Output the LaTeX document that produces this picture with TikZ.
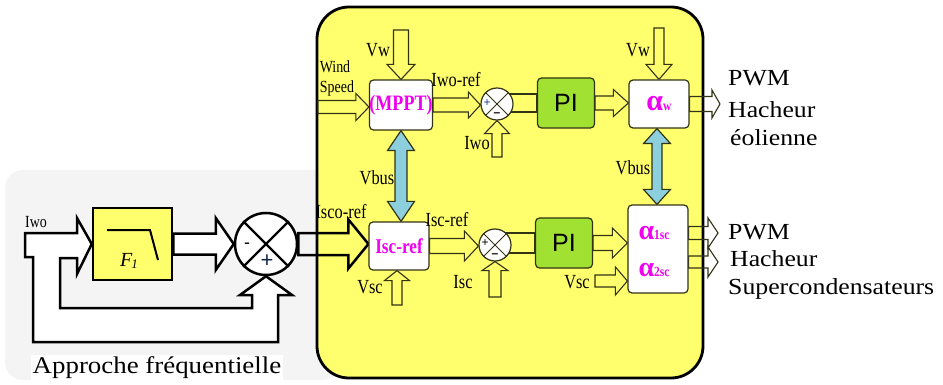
\documentclass[tikz,border=0pt]{standalone}
\usepackage{fontspec}
\setmainfont{Liberation Serif}
\newfontfamily\condserif[FakeStretch=0.82]{Liberation Serif}
\newfontfamily\wideserif[FakeStretch=1.12]{Liberation Serif}
\newfontfamily\pisans{Liberation Sans}
\usetikzlibrary{calc}
\definecolor{bgyellow}{RGB}{255,255,110}
\definecolor{pigreen}{RGB}{160,225,50}
\definecolor{vbusblue}{RGB}{140,208,222}
\definecolor{darkol}{RGB}{50,50,20}
\definecolor{panelgray}{RGB}{244,244,244}
\definecolor{magtext}{RGB}{240,0,240}
\pgfdeclarelayer{back}
\pgfdeclarelayer{mid}
\pgfsetlayers{back,mid,main}
% block arrow: style, start, tip, shaft half width, head half width, head length
\newcommand{\blockarrow}[6]{%
  \path (#2) coordinate (ba-s) (#3) coordinate (ba-t);
  \path ($(ba-t)!#6!(ba-s)$) coordinate (ba-b);
  \draw[#1] ($(ba-s)!#4!90:(ba-t)$) -- ($(ba-b)!#4!90:(ba-t)$) -- ($(ba-b)!#5!90:(ba-t)$)
    -- (ba-t) -- ($(ba-b)!#5!-90:(ba-t)$) -- ($(ba-b)!#4!-90:(ba-t)$)
    -- ($(ba-s)!#4!-90:(ba-t)$) -- cycle;}
% double headed block arrow
\newcommand{\dblarrow}[6]{%
  \path (#2) coordinate (da-a) (#3) coordinate (da-b);
  \path ($(da-a)!#6!(da-b)$) coordinate (da-a2) ($(da-b)!#6!(da-a)$) coordinate (da-b2);
  \draw[#1] (da-a) -- ($(da-a2)!#5!90:(da-b)$) -- ($(da-a2)!#4!90:(da-b)$)
    -- ($(da-b2)!#4!90:(da-b)$) -- ($(da-b2)!#5!90:(da-b)$) -- (da-b)
    -- ($(da-b2)!#5!-90:(da-b)$) -- ($(da-b2)!#4!-90:(da-b)$)
    -- ($(da-a2)!#4!-90:(da-b)$) -- ($(da-a2)!#5!-90:(da-b)$) -- cycle;}
\begin{document}
\begin{tikzpicture}[x=1pt,y=-1pt,
  lbl/.style={font=\condserif\fontsize{20}{20}\selectfont, inner sep=0pt, text=black},
  big/.style={font=\wideserif\fontsize{23}{23}\selectfont, inner sep=0pt, anchor=west},
  box/.style={draw=darkol, line width=1.2pt, rounded corners=4pt, fill=white, inner sep=0pt},
  pibox/.style={box, fill=pigreen, font=\pisans\fontsize{25}{25}\selectfont},
  sumc/.style={circle, draw=darkol, line width=1.2pt, fill=white, minimum size=32pt, inner sep=0pt},
  mag/.style={text=magtext, font=\condserif\bfseries\fontsize{22}{22}\selectfont},
  sign/.style={font=\pisans\fontsize{12}{12}\selectfont, inner sep=0pt},
  thinarr/.style={draw=darkol, line width=1.1pt, fill=bgyellow, line join=miter},
  outarr/.style={draw=darkol, line width=1.1pt, line join=miter},
  bigarr/.style={draw=black, line width=2.5pt, line join=miter},
  busarr/.style={draw=darkol, line width=1.2pt, fill=vbusblue, line join=miter}]
\useasboundingbox (0,0) rectangle (943,385);

\begin{pgfonlayer}{back}
  \fill[panelgray, rounded corners=18pt] (5,170) rectangle (340,380);
  \node[draw=black, line width=2.8pt, fill=bgyellow, rounded corners=32pt,
        minimum width=386pt, minimum height=371pt, inner sep=0pt] (ctrl) at (510,192.5) {};
\end{pgfonlayer}

% ---- frequency approach (left) ----
\node[draw=black, line width=2.5pt, fill=bgyellow, minimum width=79pt, minimum height=72pt, inner sep=0pt] (f1) at (132.5,244) {};
\draw[line width=2pt] (107,230) -- (150,230) -- (158,260);
\node[font=\itshape\fontsize{20}{20}\selectfont, inner sep=0pt] (f1lbl) at (129,261) {F\kern-1pt{\fontsize{13}{13}\selectfont\raisebox{-2pt}{1}}};
\node[circle, draw=black, line width=2.5pt, fill=white, minimum size=62pt, inner sep=0pt] (bigsum) at (266,244) {};
\draw[line width=2.2pt] (bigsum.north west) -- (bigsum.south east) (bigsum.north east) -- (bigsum.south west);
\node[font=\pisans\fontsize{18}{18}\selectfont, inner sep=0pt] (bsminus) at (247,246) {-};
\node[font=\pisans\fontsize{22}{22}\selectfont, inner sep=0pt, text={rgb,255:red,20;green,40;blue,70}] (bsplus) at (267,261) {+};
\node[lbl, font=\condserif\fontsize{17}{17}\selectfont] (iwol) at (36,222) {Iwo};
\node[font=\wideserif\fontsize{24}{24}\selectfont, fill=white, inner sep=2pt] (caption) at (157,368) {Approche fréquentielle};

% ---- control block nodes ----
\node[box, minimum width=63pt, minimum height=50pt] (mppt) at (401,105) {};
\node[mag] at (mppt) {(MPPT)};
\node[box, minimum width=60pt, minimum height=48pt] (isc) at (399,246) {};
\node[mag, font=\condserif\bfseries\fontsize{21}{21}\selectfont] at (isc) {Isc-ref};
\node[sumc] (sum1) at (497,104) {};
\draw[darkol, line width=1pt] (sum1.north west) -- (sum1.south east) (sum1.north east) -- (sum1.south west);
\node[sign, text={rgb,255:red,30;green,60;blue,140}] (s1p) at (487,103) {+};
\node[sign] (s1m) at (497,115) {\textbf{–}};
\node[sumc] (sum2) at (495,245) {};
\draw[darkol, line width=1pt] (sum2.north west) -- (sum2.south east) (sum2.north east) -- (sum2.south west);
\node[sign] (s2p) at (485,243) {+};
\node[sign] (s2m) at (495,256) {\textbf{–}};
\node[pibox, minimum width=57pt, minimum height=50pt] (pi1) at (566,103) {PI};
\node[pibox, minimum width=57pt, minimum height=50pt] (pi2) at (564,243) {PI};
\node[box, minimum width=60pt, minimum height=48pt] (aw) at (659,104) {};
\node[text=magtext, inner sep=0pt] at (aw) {{\bfseries\fontsize{30}{30}\selectfont α}{\condserif\bfseries\fontsize{14}{14}\selectfont w}};
\node[box, minimum width=60pt, minimum height=88pt] (asc) at (658,249) {};
\node[text=magtext, inner sep=0pt] (a1) at (654,233) {{\bfseries\fontsize{28}{28}\selectfont α}{\condserif\bfseries\fontsize{14}{14}\selectfont 1sc}};
\node[text=magtext, inner sep=0pt] (a2) at (654,270) {{\bfseries\fontsize{28}{28}\selectfont α}{\condserif\bfseries\fontsize{14}{14}\selectfont 2sc}};

% ---- labels ----
\node[lbl] (lvw1) at (378,50) {Vw};
\node[lbl, font=\condserif\fontsize{17}{17}\selectfont] (lwind) at (335,67) {Wind};
\node[lbl, font=\condserif\fontsize{17}{17}\selectfont] (lspeed) at (337,88) {Speed};
\node[lbl] (liworef) at (456,80) {Iwo-ref};
\node[lbl] (liwo) at (477,143) {Iwo};
\node[lbl] (lvw2) at (638,50) {Vw};
\node[lbl] (lvbus1) at (377,178) {Vbus};
\node[lbl] (lvbus2) at (633,168) {Vbus};
\node[lbl] (lisco) at (341,212) {Isco-ref};
\node[lbl] (liscref) at (447,220) {Isc-ref};
\node[lbl] (lisc) at (463,282) {Isc};
\node[lbl] (lvsc1) at (370,287) {Vsc};
\node[lbl] (lvsc2) at (577,282) {Vsc};
\node[big] (pwm1) at (728,78) {PWM};
\node[big] (hach1) at (728,110) {Hacheur};
\node[big] (eol) at (730,138) {éolienne};
\node[big] (pwm2) at (728,232) {PWM};
\node[big] (hach2) at (730,259) {Hacheur};
\node[big] (superc) at (728,289) {Supercondensateurs};

% ---- free ends ----
\coordinate (windin) at (318,107);
\coordinate (vw1in) at (401,30);
\coordinate (iwoin) at (497,157);
\coordinate (vw2in) at (659,28);
\coordinate (awout) at (720,104);
\coordinate (iscin) at (495,297);
\coordinate (vsc1in) at (397,305);
\coordinate (vsc2in) at (595,281);
\coordinate (out1) at (718,233);
\coordinate (out2) at (718,262);

\begin{pgfonlayer}{mid}
  % feedback loop of the frequency approach
  \draw[bigarr, fill=white] (25,233) -- (77,233) -- (77,218) -- (f1.west) -- (77,274) -- (77,258)
    -- (60,258) -- (60,308) -- (252,308) -- (252,295) -- (240,295) -- (bigsum.south)
    -- (292,295) -- (278,295) -- (278,342) -- (33,342) -- (33,257) -- (25,257) -- cycle;
  \blockarrow{bigarr, fill=white}{f1.east}{f1.east -| bigsum.west}{10.5pt}{26pt}{18pt}
  \blockarrow{bigarr}{bigsum.east}{bigsum.east -| isc.west}{11pt}{24.5pt}{20pt}
  % upper chain
  \blockarrow{thinarr}{windin}{mppt.west |- windin}{6.5pt}{13.5pt}{13pt}
  \blockarrow{thinarr}{vw1in}{mppt.north}{7.5pt}{14pt}{15pt}
  \blockarrow{thinarr}{mppt.east}{mppt.east -| sum1.west}{7pt}{13pt}{12pt}
  \blockarrow{thinarr}{iwoin}{sum1.south}{5pt}{12.5pt}{13pt}
  \draw[outarr, fill=bgyellow] ($(sum1.center |- pi1.west)+(0,-9)$) rectangle ($(pi1.west)+(0,9)$);
  \blockarrow{thinarr}{pi1.east}{pi1.east -| aw.west}{7pt}{13.5pt}{15pt}
  \blockarrow{thinarr}{vw2in}{aw.north}{5pt}{13pt}{15pt}
  \blockarrow{outarr}{aw.east}{awout}{7.5pt}{14pt}{8pt}
  % Vbus links
  \dblarrow{busarr}{mppt.south}{mppt.south |- isc.north}{6pt}{13.5pt}{20pt}
  \dblarrow{busarr}{[xshift=-2pt]aw.south}{[xshift=-2pt]aw.south |- asc.north}{5pt}{13.5pt}{15pt}
  % lower chain
  \blockarrow{thinarr}{isc.east}{isc.east -| sum2.west}{7.5pt}{15pt}{14pt}
  \blockarrow{thinarr}{iscin}{sum2.south}{6pt}{13pt}{9pt}
  \blockarrow{thinarr}{vsc1in}{vsc1in |- isc.south}{5pt}{12.5pt}{10pt}
  \draw[outarr, fill=bgyellow] ($(sum2.center |- pi2.west)+(0,-10)$) rectangle ($(pi2.west)+(0,10)$);
  \blockarrow{thinarr}{pi2.east}{pi2.east -| asc.west}{7.5pt}{15pt}{15pt}
  \blockarrow{thinarr}{vsc2in}{vsc2in -| asc.west}{6pt}{14pt}{12pt}
  \blockarrow{outarr}{asc.east |- out1}{out1}{6.5pt}{15pt}{10pt}
  \blockarrow{outarr}{asc.east |- out2}{out2}{6pt}{15pt}{10pt}
\end{pgfonlayer}
\end{tikzpicture}
\end{document}
